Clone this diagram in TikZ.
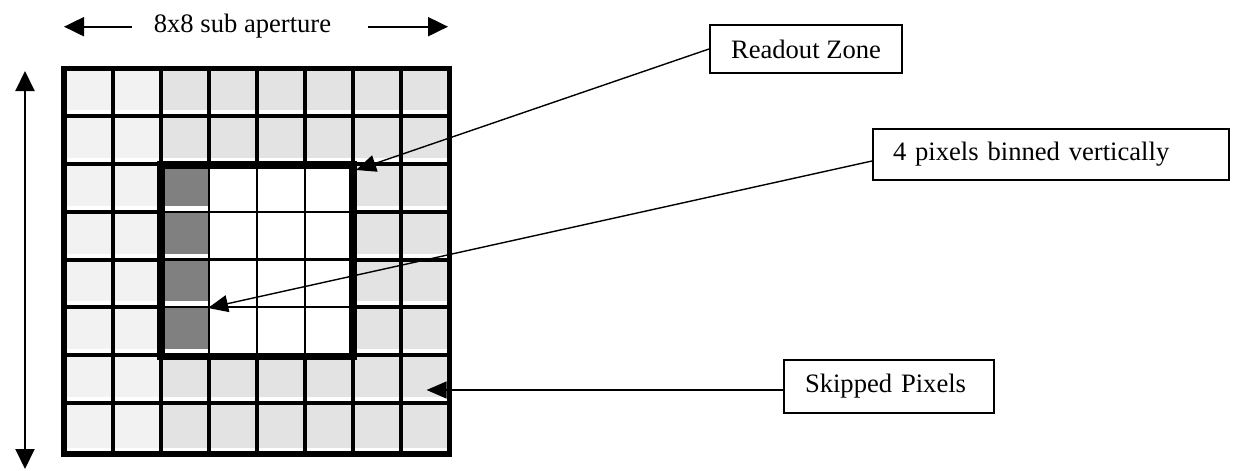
\documentclass[tikz,border=0pt]{standalone}
\usepackage{fontspec}
\setmainfont{Liberation Serif}
\usetikzlibrary{arrows.meta}
\definecolor{skipA}{HTML}{F2F2F2}
\definecolor{skipB}{HTML}{E3E3E3}
\definecolor{binned}{HTML}{808080}
\begin{document}
\begin{tikzpicture}[x=0.5pt,y=-0.5pt,
  lbl/.style={draw,line width=1pt,inner ysep=0pt,font=\fontsize{13.3}{16}\selectfont},
  conn/.style={line width=0.7pt,-{Triangle[length=10pt,width=8.5pt]}},
  dimarrow/.style={line width=1pt,-{Triangle[length=10pt,width=9.5pt]}},
  gridthick/.style={line width=2pt},
  gridthin/.style={line width=1.15pt},
  outerframe/.style={line width=2.75pt},
  zoneframe/.style={line width=3.75pt}]
\useasboundingbox (0,0) rectangle (1243,471);
\def\xs{{64,113,161,209,257,305,353,401,449.5}}
\def\ys{{68.7,115.5,164,212,259.5,307,355,403,454}}
% fills
\foreach \i in {0,...,7}{
  \foreach \j in {0,...,7}{
    \pgfmathsetmacro\xl{\xs[\i]}
    \pgfmathsetmacro\xr{\xs[\i+1]}
    \pgfmathsetmacro\yt{\ys[\j]}
    \pgfmathsetmacro\yb{\ys[\j+1]-6}
    \pgfmathtruncatemacro\inzone{(\i>=2)&&(\i<=5)&&(\j>=2)&&(\j<=5)}
    \ifnum\inzone=1
      \ifnum\i=2
        \fill[binned] (\xl,\yt) rectangle (\xr,\yb);
      \fi
    \else
      \ifnum\i<2
        \fill[skipA] (\xl,\yt) rectangle (\xr,\yb);
      \else
        \fill[skipB] (\xl,\yt) rectangle (\xr,\yb);
      \fi
    \fi
  }
}
% grid lines
\foreach \k in {1,2,6,7}{
  \pgfmathsetmacro\xk{\xs[\k]}
  \pgfmathsetmacro\yk{\ys[\k]}
  \draw[gridthick] (\xk,68.7) -- (\xk,454);
  \draw[gridthick] (64,\yk) -- (449.5,\yk);
}
\foreach \k in {3,4,5}{
  \pgfmathsetmacro\xk{\xs[\k]}
  \pgfmathsetmacro\yk{\ys[\k]}
  \draw[gridthick] (\xk,68.7) -- (\xk,164) (\xk,355) -- (\xk,454);
  \draw[gridthin] (\xk,164) -- (\xk,355);
  \draw[gridthick] (64,\yk) -- (161,\yk) (353,\yk) -- (449.5,\yk);
  \draw[gridthin] (161,\yk) -- (353,\yk);
}
\draw[outerframe] (64,68.7) rectangle (449.5,454);
\draw[zoneframe] (161,165) rectangle (353,356.5);
% dimension arrows
\node[font=\fontsize{13.3}{16}\selectfont,anchor=base,inner sep=0pt] (title) at (242.5,32.3) {8x8 sub aperture};
\coordinate (tl1) at (132,26.7);
\coordinate (tl2) at (64,26.7);
\coordinate (tr1) at (368,26.7);
\coordinate (tr2) at (448,26.7);
\draw[dimarrow] (tl1) -- (tl2);
\draw[dimarrow] (tr1) -- (tr2);
\coordinate (vt) at (25,71);
\coordinate (vb) at (25,469);
\draw[dimarrow,{Triangle[length=10pt,width=9.5pt]}-{Triangle[length=10pt,width=9.5pt]}] (vt) -- (vb);
% labels
\node[lbl,minimum width=96pt,minimum height=24pt] (ro) at (806,49) {Readout Zone};
\node[lbl,anchor=west,minimum height=25.5pt,text width=158pt,inner xsep=10pt,align=left] (bn) at (872,154.5) {4 pixels binned vertically};
\node[lbl,anchor=west,minimum height=26.5pt,text width=84pt,inner xsep=10.5pt,align=left] (sk) at (783,386.5) {Skipped Pixels};
% connectors
\coordinate (rot) at (356,170);
\coordinate (bnt) at (208,308);
\coordinate (skt) at (426.6,390);
\draw[conn] (ro.west) -- (rot);
\draw[conn] ([yshift=-3.25pt]bn.west) -- (bnt);
\draw[conn] (sk.west |- skt) -- (skt);
\end{tikzpicture}
\end{document}
